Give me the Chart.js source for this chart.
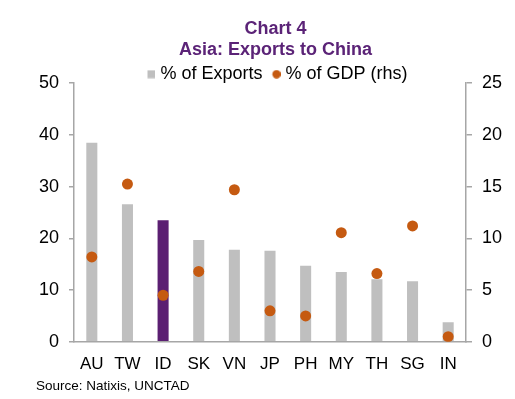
<!DOCTYPE html>
<html lang="en">
  <head>
    <meta charset="UTF-8" />
    <title>Asia: Exports to China</title>
    <script src="https://cdn.jsdelivr.net/npm/chart.js"></script>
    <style>
      body {
        margin: 0;
        background: white;
      }
      canvas {
        display: block;
      }
    </style>
  </head>
  <body>
    <canvas id="chart" width="515" height="399"></canvas>
    <script>
      // data
      const countries = ["AU", "TW", "ID", "SK", "VN", "JP", "PH", "MY", "TH", "SG", "IN"];
      const pctExports = [38.5, 26.6, 23.5, 19.7, 17.8, 17.6, 14.7, 13.5, 12.1, 11.7, 3.8];
      const pctGdp = [8.2, 15.25, 4.5, 6.8, 14.7, 3.0, 2.5, 10.55, 6.6, 11.2, 0.5];
      const leftTicks = [0, 10, 20, 30, 40, 50];
      const rightTicks = [0, 5, 10, 15, 20, 25];

      const GREY = "#BFBFBF";
      const PURPLE = "#5B1F72";
      const ORANGE = "#C55A11";
      const AXIS = "#A6A6A6";

      const barColors = countries.map((c) => (c === "ID" ? PURPLE : GREY));

      // small legend markers, drawn right of centre so the gap to the text is tighter
      function marker(shape, color) {
        const c = document.createElement("canvas");
        c.width = 16;
        c.height = 9;
        const g = c.getContext("2d");
        g.fillStyle = color;
        if (shape === "rect") {
          g.fillRect(8, 0.5, 8, 8);
        } else {
          g.beginPath();
          g.arc(12, 4.5, 4.2, 0, Math.PI * 2);
          g.fill();
        }
        return c;
      }
      const exportsMarker = marker("rect", GREY);
      const gdpMarker = marker("circle", ORANGE);

      Chart.defaults.font.family = "'Liberation Sans', Arial, sans-serif";
      Chart.defaults.color = "#000";

      new Chart(document.getElementById("chart"), {
        data: {
          labels: countries,
          datasets: [
            {
              type: "line",
              label: "% of GDP (rhs)",
              data: pctGdp,
              yAxisID: "y2",
              showLine: false,
              pointRadius: 5.5,
              pointBorderWidth: 0,
              pointBackgroundColor: ORANGE,
              backgroundColor: ORANGE,
              borderColor: ORANGE,
              order: 0,
            },
            {
              type: "bar",
              label: "% of Exports",
              data: pctExports,
              yAxisID: "y",
              backgroundColor: barColors,
              barPercentage: 0.62,
              categoryPercentage: 0.5,
              order: 1,
            },
          ],
        },
        options: {
          responsive: false,
          animation: false,
          layout: { padding: { left: 36, right: 0, top: 0, bottom: 0 } },
          plugins: {
            title: {
              display: true,
              text: ["Chart 4", "Asia: Exports to China"],
              color: "#5B2377",
              font: { size: 18, weight: "bold" },
              lineHeight: 1.111,
              padding: { top: 18, bottom: -2 },
            },
            subtitle: {
              display: true,
              text: "Source: Natixis, UNCTAD",
              position: "bottom",
              align: "start",
              font: { size: 13.5 },
              padding: { top: 0, bottom: 5 },
            },
            legend: {
              reverse: true,
              maxHeight: 24,
              labels: {
                usePointStyle: true,
                boxWidth: 8,
                boxHeight: 8,
                padding: 6,
                font: { size: 18 },
                generateLabels: (chart) => {
                  const items = Chart.defaults.plugins.legend.labels.generateLabels(chart);
                  items.forEach((it) => {
                    it.pointStyle = it.datasetIndex === 0 ? gdpMarker : exportsMarker;
                  });
                  return items;
                },
              },
            },
            tooltip: { enabled: false },
          },
          scales: {
            x: {
              grid: { display: false },
              border: { color: AXIS, width: 1.5 },
              ticks: { font: { size: 17 }, padding: 4, maxRotation: 0 },
              afterFit: (axis) => {
                axis.height = 36;
              },
            },
            y: {
              position: "left",
              min: 0,
              max: 50,
              afterBuildTicks: (axis) => {
                axis.ticks = leftTicks.map((v) => ({ value: v }));
              },
              afterFit: (axis) => {
                axis.width = 38;
              },
              grid: { drawOnChartArea: false, tickLength: 5, color: AXIS, lineWidth: 1.5 },
              border: { color: AXIS, width: 1.5 },
              ticks: { font: { size: 18 }, padding: 10 },
            },
            y2: {
              position: "right",
              min: 0,
              max: 25,
              afterBuildTicks: (axis) => {
                axis.ticks = rightTicks.map((v) => ({ value: v }));
              },
              afterFit: (axis) => {
                axis.width = 49;
              },
              grid: { drawOnChartArea: false, tickLength: 6, color: AXIS, lineWidth: 1.5 },
              border: { color: AXIS, width: 1.5 },
              ticks: { font: { size: 18 }, padding: 10 },
            },
          },
        },
      });
    </script>
  </body>
</html>
